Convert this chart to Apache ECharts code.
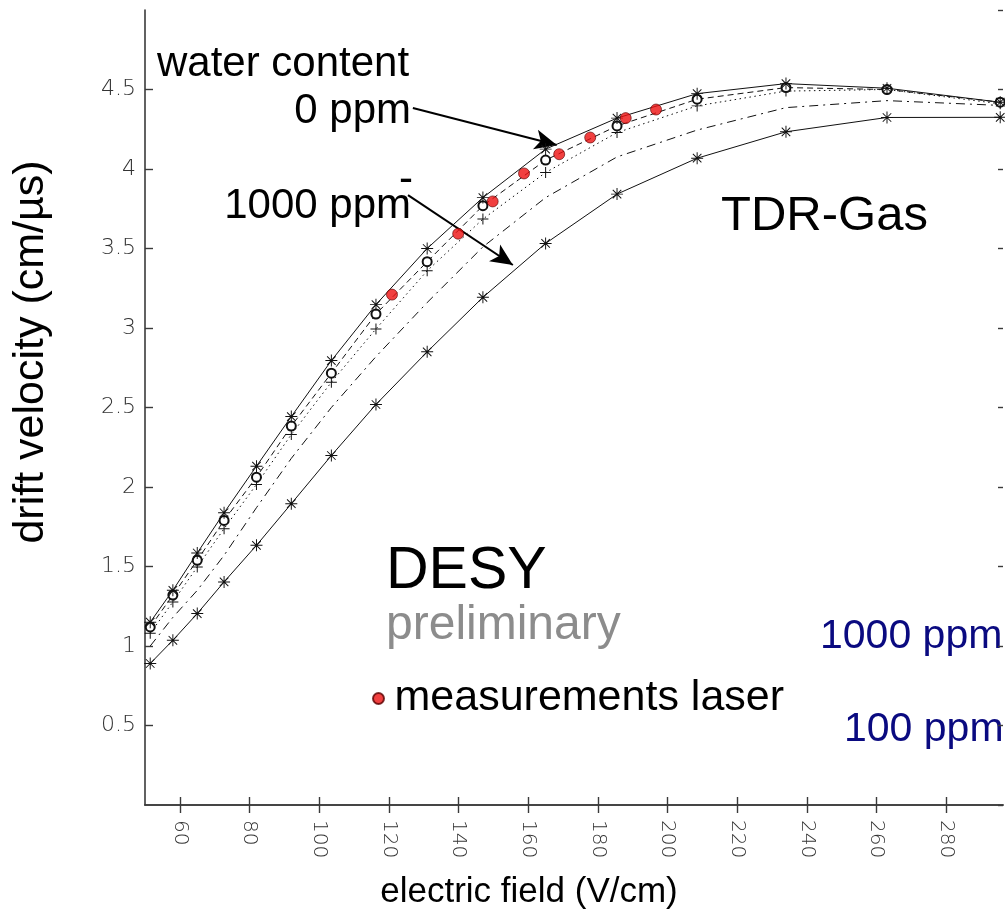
<!DOCTYPE html>
<html>
<head>
<meta charset="utf-8">
<script src="https://cdn.jsdelivr.net/npm/echarts@6/dist/echarts.min.js"></script>
<style>
  html, body { margin: 0; padding: 0; background: #ffffff; }
  #chart { width: 1005px; height: 919px; }
</style>
</head>
<body>
<div id="chart"></div>
<script>
// Electric field values (V/cm) at which the drift velocity curves were computed
const fieldValues = [51.5, 58, 65, 72.7, 82, 92, 103.5, 116.3, 131, 147, 165, 185.5, 208.5, 234, 263, 295.5];

// Simulated drift velocities (cm/µs), from dry gas (0 ppm) down to 1000 ppm water
const velocity0ppm     = [1.15, 1.35, 1.585, 1.838, 2.131, 2.443, 2.795, 3.147, 3.50, 3.82, 4.125, 4.32, 4.474, 4.537, 4.508, 4.42];
const velocityCircles  = [1.12, 1.32, 1.539, 1.79, 2.062, 2.383, 2.716, 3.088, 3.417, 3.769, 4.056, 4.271, 4.439, 4.512, 4.50, 4.42];
const velocityPlus     = [1.08, 1.277, 1.497, 1.738, 2.016, 2.33, 2.659, 2.994, 3.36, 3.685, 3.978, 4.229, 4.397, 4.49, 4.50, 4.41];
const velocityDashDot  = [1.0, 1.18, 1.35, 1.57, 1.87, 2.18, 2.50, 2.82, 3.16, 3.51, 3.82, 4.076, 4.245, 4.386, 4.43, 4.40];
const velocity1000ppm  = [0.89, 1.036, 1.204, 1.403, 1.633, 1.895, 2.198, 2.519, 2.85, 3.193, 3.532, 3.842, 4.068, 4.234, 4.324, 4.325];

// Laser measurements
const laserField    = [120.9, 139.9, 149.8, 158.8, 168.9, 177.8, 188, 196.7];
const laserVelocity = [3.21, 3.593, 3.796, 3.972, 4.093, 4.198, 4.32, 4.374];

// Axis ticks
const xRange = [50, 296.3];
const xTickValues = [60, 80, 100, 120, 140, 160, 180, 200, 220, 240, 260, 280];
const yRange = [0, 5];
const yStep = 0.5;

// Annotation arrows: [from, to] in (field, velocity)
const arrowTo0ppm    = [[126.9, 4.384], [168.2, 4.151]];
const arrowTo1000ppm = [[125.5, 3.836], [155.6, 3.396]];

const pairs = (xs, ys) => xs.map((x, i) => [x, ys[i]]);

// Marker shapes
const ASTERISK = 'path://M9.2,0 L10.8,0 L10.8,20 L9.2,20 Z M0,9.2 L20,9.2 L20,10.8 L0,10.8 Z ' +
  'M2.33,3.47 L3.47,2.33 L17.67,16.53 L16.53,17.67 Z M16.53,2.33 L17.67,3.47 L3.47,17.67 L2.33,16.53 Z';
const PLUS = 'path://M9.1,0 L10.9,0 L10.9,9.1 L20,9.1 L20,10.9 L10.9,10.9 L10.9,20 L9.1,20 L9.1,10.9 L0,10.9 L0,9.1 L9.1,9.1 Z';

const FONT = "'Liberation Sans', Arial, Helvetica, sans-serif";
const TICK_FONT = "'DejaVu Sans', sans-serif";
const AXIS_COLOR = '#3a3a3a';

function curve(name, ys, dash, symbol, size, z) {
  return {
    name, type: 'line', data: pairs(fieldValues, ys),
    symbol: symbol || 'none', symbolSize: size || 0,
    showSymbol: !!symbol, showAllSymbol: true,
    lineStyle: { color: '#111', width: 1, type: dash },
    itemStyle: symbol === 'emptyCircle'
      ? { color: '#111', borderColor: '#111', borderWidth: 1 }
      : { color: '#111', borderWidth: 0 },
    z: z, silent: true, animation: false
  };
}

const chart = echarts.init(document.getElementById('chart'), null, { renderer: 'canvas' });

const axisCommon = {
  type: 'value', min: xRange[0], max: xRange[1],
  axisLine: { show: true, lineStyle: { color: AXIS_COLOR, width: 1.6 } },
  axisTick: { show: true, inside: true, length: 8, customValues: xTickValues, lineStyle: { color: AXIS_COLOR, width: 1.4 } },
  splitLine: { show: false }
};

chart.setOption({
  animation: false,
  backgroundColor: '#ffffff',
  grid: { left: 145, right: 2, top: 10, bottom: 114, containLabel: false },
  xAxis: [
    Object.assign({}, axisCommon, {
      position: 'bottom',
      name: 'electric field (V/cm)',
      nameLocation: 'middle', nameGap: 70,
      nameTextStyle: { fontFamily: FONT, fontSize: 35, color: '#000', padding: [0, 90, 0, 0] },
      axisLabel: {
        show: true, customValues: xTickValues, rotate: -90, margin: 15,
        fontFamily: TICK_FONT, fontSize: 20, color: '#333', fontWeight: 300
      }
    }),
    Object.assign({}, axisCommon, {
      position: 'top',
      axisLabel: { show: false }
    })
  ],
  yAxis: [
    {
      type: 'value', min: yRange[0], max: yRange[1], interval: yStep, position: 'left',
      name: 'drift velocity (cm/µs)', nameLocation: 'middle', nameGap: 92,
      nameTextStyle: { fontFamily: FONT, fontSize: 43, color: '#000', padding: [0, 0, 0, 111] },
      axisLine: { show: true, lineStyle: { color: AXIS_COLOR, width: 1.6 } },
      axisTick: { show: true, inside: true, length: 8, lineStyle: { color: AXIS_COLOR, width: 1.4 } },
      axisLabel: {
        showMinLabel: false, showMaxLabel: false, margin: 9,
        fontFamily: TICK_FONT, fontSize: 22, color: '#333', fontWeight: 300
      },
      splitLine: { show: false }
    },
    {
      type: 'value', min: yRange[0], max: yRange[1], interval: yStep, position: 'right',
      axisLine: { show: false },
      axisTick: { show: true, inside: true, length: 5, lineStyle: { color: AXIS_COLOR, width: 1.4 } },
      axisLabel: { show: false },
      splitLine: { show: false }
    }
  ],
  legend: {
    data: [{ name: 'measurements laser', icon: 'circle' }],
    left: 372, top: 677, padding: 0,
    itemWidth: 22, itemHeight: 11,
    selectedMode: false,
    textStyle: { fontFamily: FONT, fontSize: 43, color: '#000' }
  },
  series: [
    curve('1000 ppm', velocity1000ppm, 'solid', ASTERISK, 12, 2),
    curve('dash-dot', velocityDashDot, [9, 5, 2, 5], null, 0, 3),
    curve('plus', velocityPlus, [1.5, 3.5], PLUS, 11, 4),
    curve('circles', velocityCircles, [6, 4], 'emptyCircle', 9, 5),
    curve('0 ppm', velocity0ppm, 'solid', ASTERISK, 12, 6),
    {
      name: 'measurements laser', type: 'scatter',
      data: pairs(laserField, laserVelocity),
      symbol: 'circle', symbolSize: 11,
      itemStyle: { color: '#ee1010', borderColor: '#5a0000', borderWidth: 0.8 },
      z: 10, silent: true, animation: false,
      markLine: {
        silent: true, animation: false,
        symbol: ['none', 'arrow'], symbolSize: [15, 22],
        label: { show: false },
        lineStyle: { color: '#000', width: 2, type: 'solid' },
        data: [
          [{ coord: arrowTo0ppm[0] }, { coord: arrowTo0ppm[1] }],
          [{ coord: arrowTo1000ppm[0] }, { coord: arrowTo1000ppm[1] }]
        ]
      }
    }
  ],
  graphic: [
    { type: 'text', x: 157, y: 64, style: { text: 'water content', font: `42px ${FONT}`, fill: '#000', textAlign: 'left', textVerticalAlign: 'middle' } },
    { type: 'text', x: 411, y: 111, style: { text: '0 ppm', font: `42px ${FONT}`, fill: '#000', textAlign: 'right', textVerticalAlign: 'middle' } },
    { type: 'text', x: 413, y: 180, style: { text: '-', font: `42px ${FONT}`, fill: '#000', textAlign: 'right', textVerticalAlign: 'middle' } },
    { type: 'text', x: 411, y: 206, style: { text: '1000 ppm', font: `42px ${FONT}`, fill: '#000', textAlign: 'right', textVerticalAlign: 'middle' } },
    { type: 'text', x: 721, y: 216, style: { text: 'TDR-Gas', font: `49px ${FONT}`, fill: '#000', textAlign: 'left', textVerticalAlign: 'middle' } },
    { type: 'text', x: 386, y: 572, style: { text: 'DESY', font: `59px ${FONT}`, fill: '#000', textAlign: 'left', textVerticalAlign: 'middle' } },
    { type: 'text', x: 386, y: 626, style: { text: 'preliminary', font: `48px ${FONT}`, fill: '#8c8c8c', textAlign: 'left', textVerticalAlign: 'middle' } },
    { type: 'text', x: 820, y: 637, style: { text: '1000 ppm', font: `41px ${FONT}`, fill: '#0a0a80', textAlign: 'left', textVerticalAlign: 'middle' } },
    { type: 'text', x: 844, y: 730, style: { text: '100 ppm', font: `41px ${FONT}`, fill: '#0a0a80', textAlign: 'left', textVerticalAlign: 'middle' } }
  ]
});
</script>
</body>
</html>
